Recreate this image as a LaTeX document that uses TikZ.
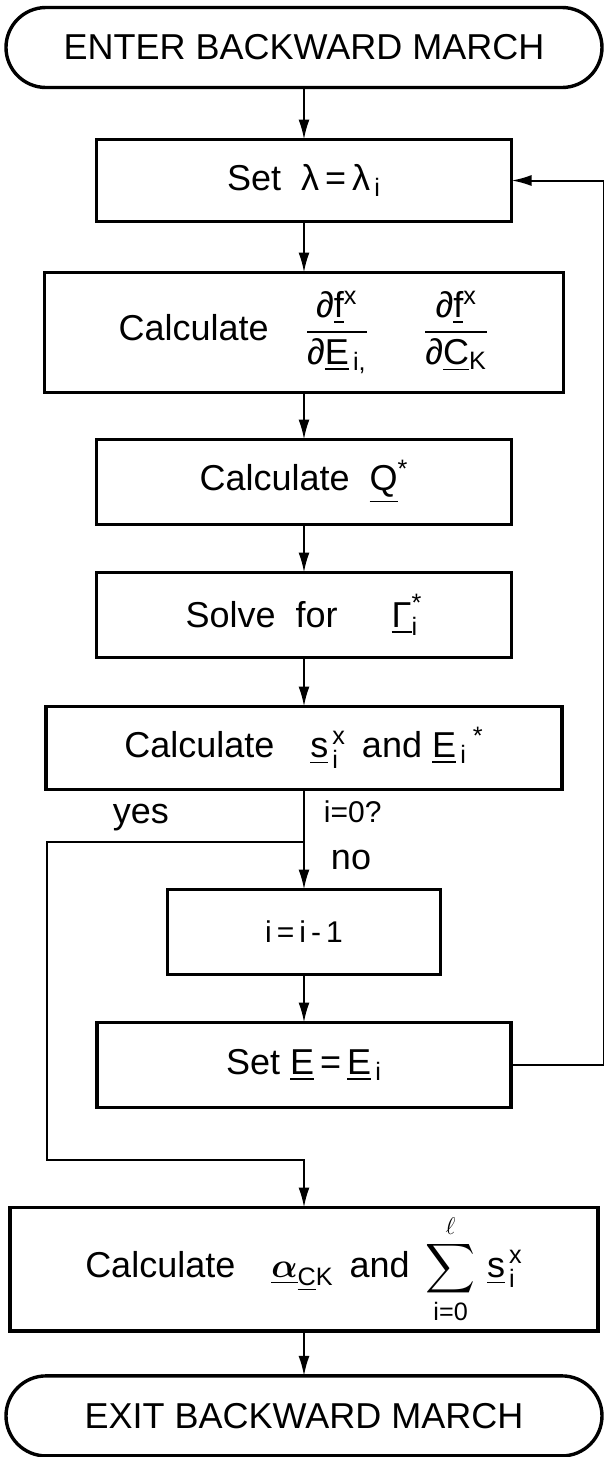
\documentclass[tikz,border=0pt]{standalone}
\usepackage{amsmath}
\usepackage{fontspec}
\setmainfont{Liberation Sans}
\usetikzlibrary{arrows.meta,positioning}

\begin{document}
\begin{tikzpicture}[font=\fontsize{18}{21}\selectfont,node distance=24pt,line width=1pt,
  box/.style={draw,line width=1.7pt,outer sep=0pt,align=center,minimum height=42.5pt},
  term/.style={draw,line width=1.7pt,outer sep=0pt,rounded corners=20pt,minimum width=298pt,minimum height=40pt},
  lbl/.style={inner sep=1pt},
  >={Latex[length=10pt,width=5.5pt]}]
\useasboundingbox (-152pt,23.75pt) rectangle (150pt,-704.75pt);
\node[term] (enter) {ENTER BACKWARD MARCH};
\node[box,minimum width=207.5pt,minimum height=41pt,below=26pt of enter] (setlam) {Set~~λ\,=\,λ\textsubscript{\,i}};
\node[box,minimum width=259.5pt,minimum height=60pt,below=25.5pt of setlam] (calcdf)
  {Calculate\quad $\dfrac{\text{∂\underline{f}\textsuperscript{x}}}{\text{∂\underline{E}\textsubscript{\,i,}}}$\quad\enspace
   $\dfrac{\text{∂\underline{f}\textsuperscript{x}}}{\text{∂\underline{C}\textsubscript{K}}}$};
\node[box,minimum width=207.5pt,below=23.5pt of calcdf] (calcq) {Calculate~~\underline{Q}\textsuperscript{*}};
\node[box,minimum width=207.5pt,below=of calcq] (solve) {Solve~~for\quad\enspace $\underline{\text{Γ}}_{\text{i}}^{\text{*}}$};
\node[box,minimum width=258pt,minimum height=41.5pt,below=24.5pt of solve] (calcs)
  {Calculate\quad $\underline{\text{s}}{}_{\,\text{i}}^{\,\text{x}}$\, and \underline{E}\textsubscript{\,i}\,\textsuperscript{*}};
\node[box,minimum width=136.5pt,font=\fontsize{15}{18}\selectfont,below=50pt of calcs] (dec) {i\,=\,i\,-\,1};
\node[box,minimum width=207pt,below=of dec] (sete) {Set \underline{E}\,=\,\underline{E}\textsubscript{\,i}};
\node[box,minimum width=294pt,minimum height=60pt,below=50pt of sete] (final)
  {Calculate\quad $\underline{\boldsymbol{\alpha}}_{\underline{\text{C}}\text{K}}$\, and\,
   $\displaystyle\sum_{\text{i=0}}^{\ell}\,\underline{\text{s}}{}_{\,\text{i}}^{\,\text{x}}$};
\node[term,below=22.5pt of final] (exit) {EXIT BACKWARD MARCH};
% branch points
\coordinate[below=26pt of calcs.south] (split);
\coordinate[left=128.5pt of split] (yescorner);
\coordinate[above=24pt of final.north] (merge);
\coordinate (rim) at (150pt,0);
\node[lbl,above left=4pt and 66pt of split] (yes) {yes};
\node[lbl,font=\fontsize{15}{18}\selectfont,above right=8pt and 8.5pt of split] (test) {i=0?};
\node[lbl,below right=3pt and 12pt of split] (no) {no};
\draw[->] (enter)--(setlam);
\draw[->] (setlam)--(calcdf);
\draw[->] (calcdf)--(calcq);
\draw[->] (calcq)--(solve);
\draw[->] (solve)--(calcs);
\draw[->] (calcs)--(dec);
\draw[->] (dec)--(sete);
\draw[->] (split)--(yescorner)|-(merge)--(final);
\draw[->] (final)--(exit);
\draw[->] (sete.east)--(sete.east-|rim)|-(setlam.east);
\end{tikzpicture}
\end{document}
